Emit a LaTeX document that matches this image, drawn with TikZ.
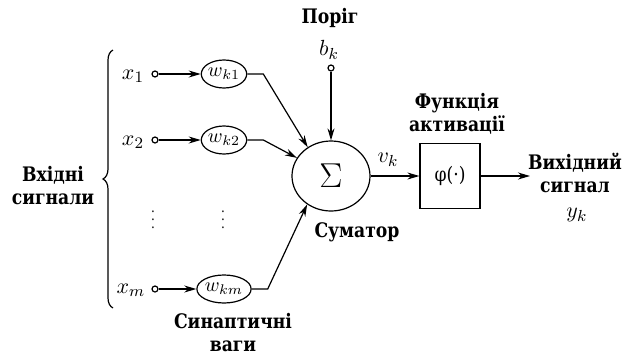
\documentclass[tikz,border=0pt]{standalone}
\usepackage{fontspec}
\setmainfont{DejaVu Serif}[FakeStretch=0.86]
\usepackage{tikz}
\usetikzlibrary{shapes.geometric,arrows.meta,decorations.pathreplacing}

\begin{document}
\begin{tikzpicture}[x=0.5pt, y=-0.5pt, semithick,
  every node/.style={font=\fontsize{10}{12}\selectfont},
  title/.style={font=\bfseries\fontsize{10}{11.5}\selectfont, align=center},
  sym/.style={font=\fontsize{11}{12}\selectfont, inner sep=1pt},
  wnode/.style={draw, ellipse, minimum width=22pt, minimum height=14pt, inner sep=0pt, font=\fontsize{10}{11}\selectfont},
  term/.style={draw, circle, minimum size=3pt, inner sep=0pt, fill=white},
  dotsv/.style={font=\scriptsize, inner sep=0pt},
  arr/.style={-{Stealth[length=6pt,width=3.5pt]}}]
\useasboundingbox (0,0) rectangle (622,354);
% inputs and weights
\node[sym] (x1) at (133,76) {$x_1$};
\node[sym] (x2) at (133,142) {$x_2$};
\node[sym] (xm) at (131,290) {$x_m$};
\node[term] (t1) at (155,74) {};
\node[term] (t2) at (155,140) {};
\node[term] (tm) at (155,289) {};
\node[wnode] (w1) at (224,74) {$w_{k1}$};
\node[wnode] (w2) at (224,140) {$w_{k2}$};
\node[wnode] (wm) at (224,289) {$w_{km}$};
\node[dotsv] (d1) at (153,214) {$\vdots$};
\node[dotsv] (d2) at (223,214) {$\vdots$};
\draw[decorate, decoration={brace, amplitude=5pt}] (113,308) -- (113,50);
\node[title] (inlbl) at (53,186) {Вхідні\\сигнали};
\node[title] (wlbl) at (233,333) {Синаптичні\\ваги};
% summer, bias
\node[draw, ellipse, minimum width=39pt, minimum height=35pt, font=\fontsize{16}{16}\selectfont] (sum) at (331,176) {$\Sigma$};
\node[title] (sumlbl) at (357,232) {Суматор};
\node[term] (bias) at (331,68) {};
\node[sym] (bk) at (329,50) {$b_k$};
\node[title] (thr) at (330,18) {Поріг};
% activation and output
\node[draw, minimum width=30pt, minimum height=32.5pt] (act) at (450,176) {φ(·)};
\node[sym] (vk) at (388,160) {$v_k$};
\node[title] (actlbl) at (457,114) {Функція\\активації};
\coordinate (out) at (530,176);
\node[title] (outlbl) at (575,173) {Вихідний\\сигнал};
\node[sym] (yk) at (577,215) {$y_k$};
\draw[arr] (t1) -- (w1);
\draw[arr] (t2) -- (w2);
\draw[arr] (tm) -- (wm);
\draw[arr] (w1.east) -- ++(16,0) -- (sum.129);
\draw[arr] (w2.east) -- ++(16,0) -- (sum.152);
\draw[arr] (wm.east) -- ++(16,0) -- (sum.230);
\draw[arr] (bias) -- (sum.north);
\draw[arr] (sum) -- (act);
\draw[arr] (act) -- (out);
\end{tikzpicture}
\end{document}
